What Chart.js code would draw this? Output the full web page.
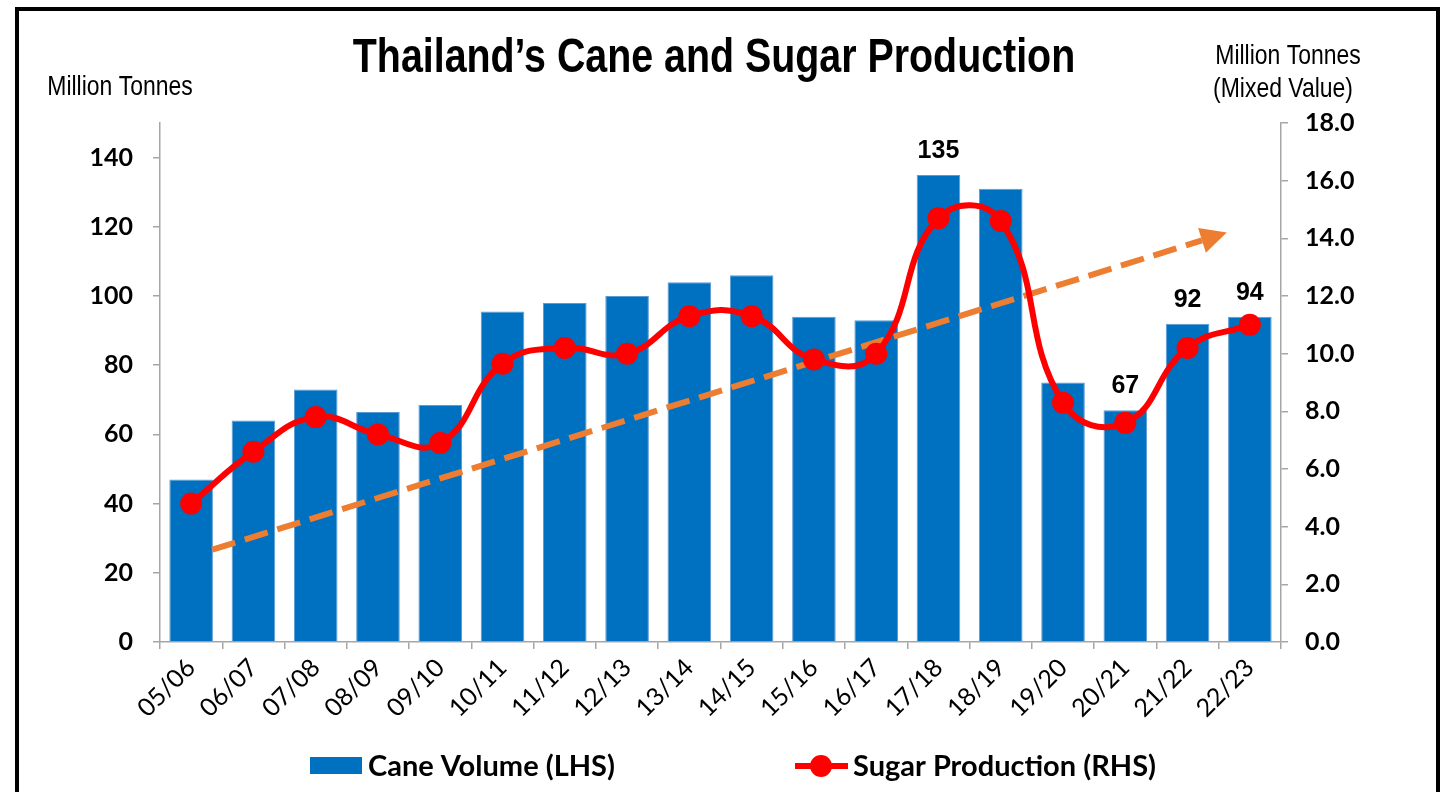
<!DOCTYPE html>
<html>
<head>
<meta charset="utf-8">
<script src="https://cdn.jsdelivr.net/npm/chart.js@4/dist/chart.umd.min.js"></script>
<style>
  html, body { margin: 0; padding: 0; background: #fff; overflow: hidden; }
  #frame { position: absolute; left: 15px; top: 7px; width: 1417px; height: 900px; border: 4px solid #000; box-sizing: content-box; }
  #c { position: absolute; left: 0; top: 0; }
</style>
</head>
<body>
<div id="frame"></div>
<canvas id="c" width="1446" height="792"></canvas>
<script>
const categories = ['05/06','06/07','07/08','08/09','09/10','10/11','11/12','12/13','13/14','14/15','15/16','16/17','17/18','18/19','19/20','20/21','21/22','22/23'];
const caneVolume = [47, 64, 73, 66.5, 68.5, 95.5, 98, 100, 104, 106, 94, 93, 135, 131, 75, 67, 92, 94];
const sugarProduction = [4.8, 6.6, 7.8, 7.2, 6.9, 9.65, 10.2, 10.0, 11.3, 11.3, 9.8, 10.0, 14.7, 14.6, 8.3, 7.6, 10.2, 11.0];
const caneLabelIndex = [12, 15, 16, 17];
const caneLabelText = ['135', '67', '92', '94'];
const leftTicks = [0, 20, 40, 60, 80, 100, 120, 140];
const rightTicks = [0, 2, 4, 6, 8, 10, 12, 14, 16, 18];
const trendStart = [0.34, 3.2];   // [category position, RHS value]
const trendEnd = [16.63, 14.2];

const BLUE = '#0070C0', RED = '#FF0000', ORANGE = '#ED7D31', AXIS = '#A6A6A6';

const mctx = document.createElement('canvas').getContext('2d');
function hasFont(name) {
  mctx.font = '40px monospace'; const a = mctx.measureText('Million Tonnes WWW').width;
  mctx.font = "40px '" + name + "', monospace"; const b = mctx.measureText('Million Tonnes WWW').width;
  return a !== b;
}
const NARROW = hasFont('Liberation Sans Narrow');
function narrowText(ctx, text, x, y, size, bold, align) {
  ctx.save();
  const sx = NARROW ? 1 : 0.82;
  ctx.font = (bold ? 'bold ' : '') + size + "px " + (NARROW ? "'Liberation Sans Narrow'" : "'Liberation Sans', Arial");
  ctx.textBaseline = 'alphabetic';
  const w = ctx.measureText(text).width * sx;
  let left = x;
  if (align === 'center') left = x - w / 2; else if (align === 'right') left = x - w;
  ctx.translate(left, y);
  ctx.scale(sx, 1);
  ctx.textAlign = 'left';
  ctx.fillStyle = '#000';
  ctx.fillText(text, 0, 0);
  ctx.restore();
}

const decor = {
  id: 'decor',
  beforeDatasetDraw(chart, args) {
    if (args.index !== 1) return;
    const ctx = chart.ctx, xs = chart.scales.x, ys = chart.scales.y1;
    const x0 = xs.getPixelForValue(trendStart[0]), y0 = ys.getPixelForValue(trendStart[1]);
    const x1 = xs.getPixelForValue(trendEnd[0]), y1 = ys.getPixelForValue(trendEnd[1]);
    const ang = Math.atan2(y1 - y0, x1 - x0);
    const headL = 26, headW = 13;
    const bx = x1 - headL * Math.cos(ang), by = y1 - headL * Math.sin(ang);
    ctx.save();
    ctx.strokeStyle = ORANGE; ctx.lineWidth = 6; ctx.setLineDash([24, 10]); ctx.lineCap = 'butt';
    ctx.beginPath(); ctx.moveTo(x0, y0); ctx.lineTo(bx, by); ctx.stroke();
    ctx.setLineDash([]);
    ctx.fillStyle = ORANGE;
    ctx.beginPath();
    ctx.moveTo(x1, y1);
    ctx.lineTo(bx + headW * Math.sin(ang), by - headW * Math.cos(ang));
    ctx.lineTo(bx - headW * Math.sin(ang), by + headW * Math.cos(ang));
    ctx.closePath(); ctx.fill();
    ctx.restore();
  },
  afterDraw(chart) {
    const ctx = chart.ctx;
    narrowText(ctx, 'Thailand\u2019s Cane and Sugar Production', 714, 72, 48, true, 'center');
    narrowText(ctx, 'Million Tonnes', 120, 95, 28, false, 'center');
    narrowText(ctx, 'Million Tonnes', 1288, 64, 28, false, 'center');
    narrowText(ctx, '(Mixed Value)', 1283, 97, 28, false, 'center');
    const meta = chart.getDatasetMeta(0);
    ctx.save();
    ctx.font = "bold 25px 'Liberation Sans', Arial";
    ctx.textAlign = 'center'; ctx.textBaseline = 'alphabetic'; ctx.fillStyle = '#000';
    caneLabelIndex.forEach((idx, k) => {
      const el = meta.data[idx];
      ctx.fillText(caneLabelText[k], el.x, el.y - 17);
    });
    ctx.restore();
    ctx.save();
    ctx.fillStyle = BLUE; ctx.fillRect(310, 757, 52, 17);
    ctx.strokeStyle = RED; ctx.lineWidth = 6;
    ctx.beginPath(); ctx.moveTo(795, 766); ctx.lineTo(848, 766); ctx.stroke();
    ctx.fillStyle = RED; ctx.beginPath(); ctx.arc(821, 766, 11, 0, Math.PI * 2); ctx.fill();
    ctx.fillStyle = '#000'; ctx.font = "bold 29px Lato"; ctx.textBaseline = 'alphabetic'; ctx.textAlign = 'left';
    ctx.fillText('Cane Volume (LHS)', 368, 776);
    ctx.fillText('Sugar Production (RHS)', 853, 776);
    ctx.restore();
  }
};

new Chart(document.getElementById('c'), {
  type: 'bar',
  data: {
    labels: categories,
    datasets: [
      {
        type: 'bar', label: 'Cane Volume (LHS)', data: caneVolume, yAxisID: 'y', order: 1,
        backgroundColor: BLUE, borderColor: '#5B9BD5', borderWidth: 1,
        barPercentage: 1, categoryPercentage: 0.7
      },
      {
        type: 'line', label: 'Sugar Production (RHS)', data: sugarProduction, yAxisID: 'y1', order: 0,
        borderColor: RED, backgroundColor: RED, borderWidth: 6, tension: 0.45,
        pointRadius: 11, pointBackgroundColor: RED, pointBorderWidth: 0, pointHoverRadius: 11
      }
    ]
  },
  options: {
    responsive: false, animation: false,
    layout: { padding: { left: 20, right: 45, top: 123, bottom: 50 } },
    plugins: { legend: { display: false }, title: { display: false }, tooltip: { enabled: false } },
    scales: {
      x: {
        offset: true,
        grid: { display: true, drawOnChartArea: false, drawTicks: true, tickLength: 7, color: AXIS, lineWidth: 1.5, offset: true },
        border: { display: true, color: AXIS, width: 1.5 },
        ticks: { color: '#000', font: { family: 'Lato', size: 25 }, maxRotation: 45, minRotation: 45, padding: 4, autoSkip: false },
        afterFit(s) { s.height = 100; }
      },
      y: {
        position: 'left', min: 0, max: 150,
        grid: { display: true, drawOnChartArea: false, drawTicks: true, tickLength: 7, color: AXIS, lineWidth: 1.5 },
        border: { display: true, color: AXIS, width: 1.5 },
        ticks: { color: '#000', font: { family: 'Lato', size: 25, weight: 'bold' }, padding: 20 },
        afterBuildTicks(s) { s.ticks = leftTicks.map(v => ({ value: v })); },
        afterFit(s) { s.width = 140; }
      },
      y1: {
        position: 'right', min: 0, max: 18,
        grid: { display: true, drawOnChartArea: false, drawTicks: true, tickLength: 7, color: AXIS, lineWidth: 1.5 },
        border: { display: true, color: AXIS, width: 1.5 },
        ticks: { color: '#000', font: { family: 'Lato', size: 25, weight: 'bold' }, padding: 17, callback: v => Number(v).toFixed(1) },
        afterBuildTicks(s) { s.ticks = rightTicks.map(v => ({ value: v })); },
        afterFit(s) { s.width = 120; }
      }
    }
  },
  plugins: [decor]
});
</script>
</body>
</html>
